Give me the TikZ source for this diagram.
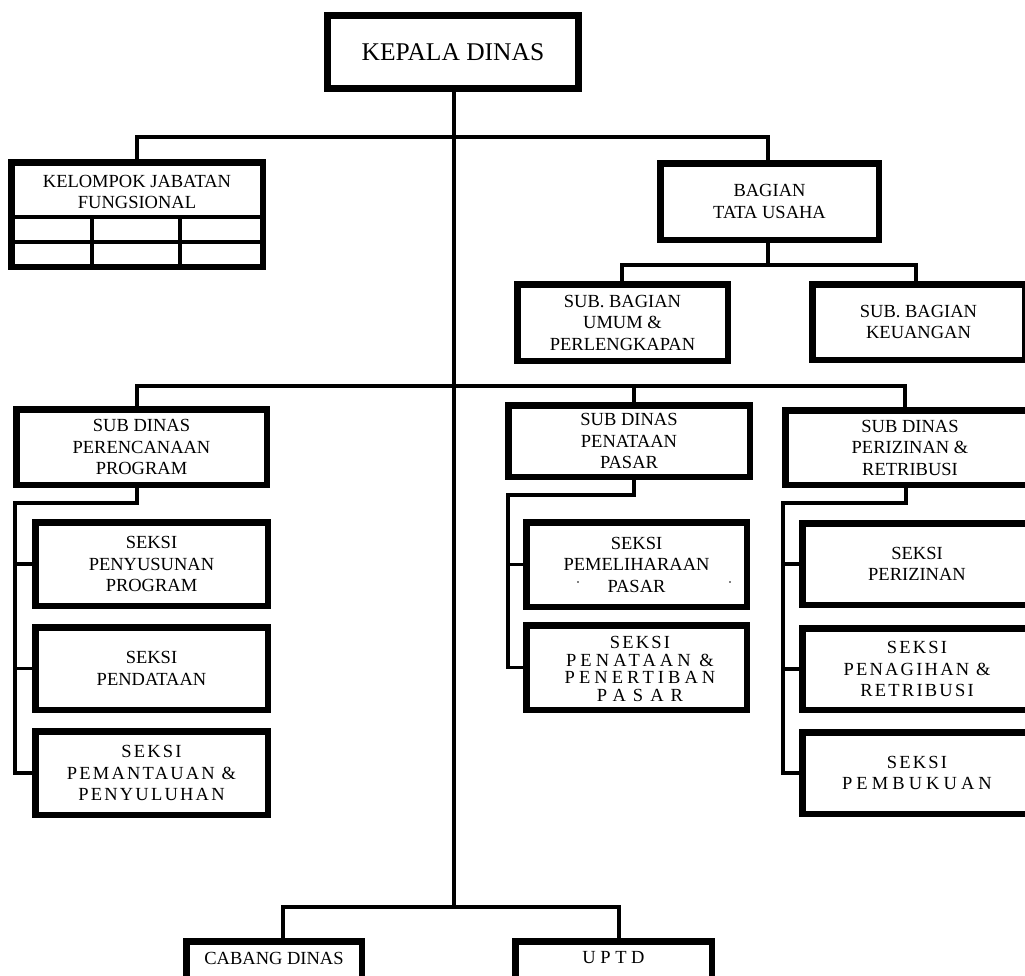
\documentclass[tikz,border=0pt]{standalone}
\usepackage{fontspec}
\setmainfont{Liberation Serif}
\newfontfamily\spA[LetterSpace=12]{Liberation Serif}
\newfontfamily\spB[LetterSpace=22]{Liberation Serif}
\newfontfamily\spC[LetterSpace=38]{Liberation Serif}
\tikzset{
  box/.style={draw=black, line width=6.5pt, inner sep=0pt, align=center, fill=white,
    font=\fontsize{18.5}{21.5}\selectfont},
  txt/.style={inner sep=0pt, align=center, font=\fontsize{18.5}{21.5}\selectfont},
  conn/.style={draw=black, line width=3.3pt, line join=miter},
  trunk/.style={draw=black, line width=4pt},
  grid/.style={draw=black, line width=4pt}
}
\begin{document}
\begin{tikzpicture}[x=1pt,y=-1pt]
\useasboundingbox (0,0) rectangle (1025,975);
\fill[white] (0,0) rectangle (1025,975);

% boxes
\node[box, line width=7pt, minimum width=251pt, minimum height=73pt, font=\fontsize{25.5}{29}\selectfont] (kd) at (453,52) {KEPALA DINAS};
\node[box, minimum width=251.5pt, minimum height=104.5pt] (kjf) at (137,214.5) {};
\node[txt] (kjft) at (137,192) {KELOMPOK JABATAN\\FUNGSIONAL};
\node[box, minimum width=218.5pt, minimum height=76.5pt] (bag) at (769.5,201.5) {BAGIAN\\TATA USAHA};
\node[box, minimum width=210.5pt, minimum height=76.5pt] (sbu) at (622.5,322.5) {SUB. BAGIAN\\UMUM \&\\PERLENGKAPAN};
\node[box, minimum width=212.5pt, minimum height=75.5pt] (sbk) at (918.5,322) {SUB. BAGIAN\\KEUANGAN};

\node[box, minimum width=250.5pt, minimum height=75.5pt] (sdp) at (141.5,447) {SUB DINAS\\PERENCANAAN\\PROGRAM};
\node[box, minimum width=232.5pt, minimum height=83.5pt] (sp1) at (151.5,564) {SEKSI\\PENYUSUNAN\\PROGRAM};
\node[box, minimum width=232.5pt, minimum height=82.5pt] (sp2) at (151.5,668.5) {SEKSI\\PENDATAAN};
\node[box, minimum width=232.5pt, minimum height=83.5pt] (sp3) at (151.5,773) {\spA SEKSI\\\spA PEMANTAUAN \&\\\spA PENYULUHAN};

\node[box, minimum width=241.5pt, minimum height=71.5pt] (sdt) at (629,441) {SUB DINAS\\PENATAAN\\PASAR};
\node[box, minimum width=220.5pt, minimum height=84.5pt] (st1) at (636.5,564.5) {SEKSI\\PEMELIHARAAN\\PASAR};
\node[box, minimum width=220.5pt, minimum height=84.5pt] (st2) at (636.5,667.5) {};
\node[txt, font=\fontsize{18.5}{17.5}\selectfont] (st2t) at (640,669) {\spA SEKSI\\\spB PENATAAN \&\\\spB PENERTIBAN\\\spC PASAR};

\node[box, minimum width=249.5pt, minimum height=74.5pt] (sdz) at (910,447.5) {SUB DINAS\\PERIZINAN \&\\RETRIBUSI};
\node[box, minimum width=229.5pt, minimum height=81.5pt] (sz1) at (917,564) {SEKSI\\PERIZINAN};
\node[box, minimum width=229.5pt, minimum height=81.5pt] (sz2) at (917,669) {\spA SEKSI\\\spA PENAGIHAN \&\\\spA RETRIBUSI};
\node[box, minimum width=229.5pt, minimum height=81.5pt] (sz3) at (917,773) {\spA SEKSI\\\spB PEMBUKUAN};

\node[box, minimum width=175.5pt, minimum height=50.5pt] (cab) at (274,966.5) {};
\node[txt] (cabt) at (274,958) {CABANG DINAS};
\node[box, minimum width=196.5pt, minimum height=50.5pt] (upt) at (613.5,966.5) {};
\node[txt] (uptt) at (613.5,958) {U P T D};

% grid of KJF
\draw[grid] (kjf.west |- 0,217) -- (kjf.east |- 0,217);
\draw[grid] (kjf.west |- 0,242) -- (kjf.east |- 0,242);
\draw[grid] (92,217) -- (92,267);
\draw[grid] (180,217) -- (180,267);

% junction coordinates
\coordinate (ta) at (454,137);
\coordinate (tl) at (137,137);
\coordinate (tr) at (768,137);
\coordinate (ml) at (137,386);
\coordinate (mc) at (634,386);
\coordinate (mr) at (905,386);
\coordinate (tb) at (454,907);
\coordinate (bl) at (283,907);
\coordinate (br) at (619,907);
\coordinate (ba) at (768,265);
\coordinate (bal) at (622,265);
\coordinate (bar) at (916,265);

% trunk
\draw[trunk] (ta |- kd.south) -- (tb);
% top branch
\draw[conn] (tl |- kjf.north) -- (tl) -- (tr) -- (tr |- bag.north);
\draw[conn] (ba |- bag.south) -- (ba);
\draw[conn] (bal |- sbu.north) -- (bal) -- (bar) -- (bar |- sbk.north);
% middle branch
\draw[conn] (ml |- sdp.north) -- (ml) -- (mr) -- (mr |- sdz.north);
\draw[conn] (mc) -- (mc |- sdt.north);
% bottom branch
\draw[conn] (bl |- cab.north) -- (bl) -- (br) -- (br |- upt.north);

% brackets
\coordinate (pa) at (137,503);
\coordinate (pb) at (15,503);
\draw[conn] (pa |- sdp.south) -- (pa) -- (pb) -- (pb |- sp3.west) -- (sp3.west);
\draw[conn] (pb |- sp1.west) -- (sp1.west);
\draw[conn] (pb |- sp2.west) -- (sp2.west);

\coordinate (qa) at (634,495);
\coordinate (qb) at (508,495);
\draw[conn] (qa |- sdt.south) -- (qa) -- (qb) -- (qb |- st2.west) -- (st2.west);
\draw[conn] (qb |- st1.west) -- (st1.west);

\coordinate (ra) at (906,503);
\coordinate (rb) at (783,503);
\draw[conn] (ra |- sdz.south) -- (ra) -- (rb) -- (rb |- sz3.west) -- (sz3.west);
\draw[conn] (rb |- sz1.west) -- (sz1.west);
\draw[conn] (rb |- sz2.west) -- (sz2.west);

% stray dots
\fill (578,582) circle (0.9);
\fill (730,582) circle (0.9);
\end{tikzpicture}
\end{document}
